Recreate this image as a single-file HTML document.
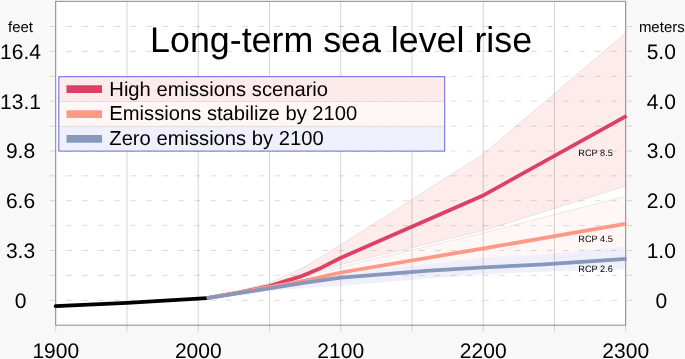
<!DOCTYPE html>
<html><head><meta charset="utf-8"><title>Long-term sea level rise</title>
<style>html,body{margin:0;padding:0;background:#f8f8f8}svg text{text-rendering:geometricPrecision;font-family:"Liberation Sans",sans-serif;fill:#000}</style></head>
<body>
<svg width="685" height="359" viewBox="0 0 685 359" style="display:block;will-change:transform">
<rect width="685" height="359" fill="#f8f8f8"/>
<rect x="55.6" y="1.4" width="570.0" height="323.8" fill="#fff"/>
<polygon points="206.8,298.1 240.0,290.5 269.5,282.8 289.4,273.9 301.9,268.3 312.8,262.0 340.4,245.0 483.7,153.7 625.6,32.9 625.6,186.1 483.7,230.6 340.9,264.5 269.3,287.0 206.7,298.0" fill="#f02020" fill-opacity="0.085" stroke="#000" stroke-opacity="0.17" stroke-width="0.5"/>
<polygon points="206.7,298.0 269.3,285.5 340.9,267.0 483.7,232.9 625.6,196.1 625.6,249.7 540.0,260.4 483.7,263.4 426.0,268.1 340.9,279.5 269.3,289.0 206.7,298.0" fill="#ff5032" fill-opacity="0.042" stroke="#000" stroke-opacity="0.17" stroke-width="0.5"/>
<polygon points="206.7,298.0 269.3,286.5 340.9,273.5 426.0,264.2 483.7,257.6 540.0,254.7 625.6,246.4 625.6,269.6 540.0,271.8 483.7,274.3 426.0,278.8 340.9,285.9 305.1,288.1 269.3,290.9 206.7,298.0" fill="#ededfb" fill-opacity="0.82" stroke="none"/>
<line x1="55.75" y1="1.4" x2="55.75" y2="331.2" stroke="#000" stroke-opacity="0.17" stroke-width="1"/>
<line x1="127.00" y1="1.4" x2="127.00" y2="331.2" stroke="#000" stroke-opacity="0.17" stroke-width="1"/>
<line x1="198.24" y1="1.4" x2="198.24" y2="331.2" stroke="#000" stroke-opacity="0.17" stroke-width="1"/>
<line x1="269.49" y1="1.4" x2="269.49" y2="331.2" stroke="#000" stroke-opacity="0.17" stroke-width="1"/>
<line x1="340.73" y1="1.4" x2="340.73" y2="331.2" stroke="#000" stroke-opacity="0.17" stroke-width="1"/>
<line x1="411.98" y1="1.4" x2="411.98" y2="331.2" stroke="#000" stroke-opacity="0.17" stroke-width="1"/>
<line x1="483.22" y1="1.4" x2="483.22" y2="331.2" stroke="#000" stroke-opacity="0.17" stroke-width="1"/>
<line x1="554.47" y1="1.4" x2="554.47" y2="331.2" stroke="#000" stroke-opacity="0.17" stroke-width="1"/>
<line x1="625.71" y1="1.4" x2="625.71" y2="331.2" stroke="#000" stroke-opacity="0.17" stroke-width="1"/>
<line x1="50" y1="300.30" x2="632" y2="300.30" stroke="#000" stroke-opacity="0.14" stroke-width="1" stroke-dasharray="6 10.027"/>
<line x1="50" y1="275.41" x2="632" y2="275.41" stroke="#000" stroke-opacity="0.14" stroke-width="1" stroke-dasharray="6 10.027"/>
<line x1="50" y1="250.52" x2="632" y2="250.52" stroke="#000" stroke-opacity="0.14" stroke-width="1" stroke-dasharray="6 10.027"/>
<line x1="50" y1="225.63" x2="632" y2="225.63" stroke="#000" stroke-opacity="0.14" stroke-width="1" stroke-dasharray="6 10.027"/>
<line x1="50" y1="200.74" x2="632" y2="200.74" stroke="#000" stroke-opacity="0.14" stroke-width="1" stroke-dasharray="6 10.027"/>
<line x1="50" y1="175.85" x2="632" y2="175.85" stroke="#000" stroke-opacity="0.14" stroke-width="1" stroke-dasharray="6 10.027"/>
<line x1="50" y1="150.96" x2="632" y2="150.96" stroke="#000" stroke-opacity="0.14" stroke-width="1" stroke-dasharray="6 10.027"/>
<line x1="50" y1="126.07" x2="632" y2="126.07" stroke="#000" stroke-opacity="0.14" stroke-width="1" stroke-dasharray="6 10.027"/>
<line x1="50" y1="101.18" x2="632" y2="101.18" stroke="#000" stroke-opacity="0.14" stroke-width="1" stroke-dasharray="6 10.027"/>
<line x1="50" y1="76.29" x2="632" y2="76.29" stroke="#000" stroke-opacity="0.14" stroke-width="1" stroke-dasharray="6 10.027"/>
<line x1="50" y1="51.40" x2="632" y2="51.40" stroke="#000" stroke-opacity="0.14" stroke-width="1" stroke-dasharray="6 10.027"/>
<line x1="50" y1="26.51" x2="632" y2="26.51" stroke="#000" stroke-opacity="0.14" stroke-width="1" stroke-dasharray="6 10.027"/>
<rect x="55.6" y="1.4" width="570.0" height="323.8" fill="none" stroke="#9a9a9a" stroke-width="1.15"/>
<polyline points="55.6,306.2 127.0,302.8 206.7,298.1" fill="none" stroke="#000" stroke-width="3.7" stroke-linejoin="round" stroke-linecap="round"/>
<polyline points="206.8,298.1 240.0,292.4 269.5,286.1 283.0,281.9 301.9,276.1 321.0,267.9 340.4,258.0 483.7,195.2 626.6,115.8" fill="none" stroke="#dc4064" stroke-width="3.8" stroke-linejoin="round"/>
<polyline points="206.8,298.1 269.3,287.0 305.1,280.7 340.9,272.5 483.7,248.4 626.6,223.7" fill="none" stroke="#ff9885" stroke-width="3.8" stroke-linejoin="round"/>
<polyline points="206.8,298.1 269.3,288.4 305.1,282.6 340.9,277.7 426.0,270.9 483.7,267.3 540.0,264.7 626.6,258.8" fill="none" stroke="#8898bc" stroke-width="3.8" stroke-linejoin="round"/>
<rect x="58.8" y="76.70" width="385.9" height="24.8" fill="#fdeaea"/>
<rect x="58.8" y="101.50" width="385.9" height="24.8" fill="#fff7f5"/>
<rect x="58.8" y="126.30" width="385.9" height="24.8" fill="#f0f0fd"/>
<line x1="58.8" x2="444.7" y1="101.50" y2="101.50" stroke="#dcd8d8" stroke-width="0.8"/>
<line x1="58.8" x2="444.7" y1="126.30" y2="126.30" stroke="#dcd8d8" stroke-width="0.8"/>
<rect x="58.8" y="76.7" width="385.9" height="74.4" fill="none" stroke="#6666e0" stroke-width="1"/>
<line x1="66.5" x2="102" y1="89.20" y2="89.20" stroke="#dc4064" stroke-width="7.7"/>
<text x="109.3" y="95.50" font-size="20.2">High emissions scenario</text>
<line x1="66.5" x2="102" y1="114.05" y2="114.05" stroke="#ff9885" stroke-width="7.7"/>
<text x="109.3" y="120.40" font-size="20.2">Emissions stabilize by 2100</text>
<line x1="66.5" x2="102" y1="138.90" y2="138.90" stroke="#8898bc" stroke-width="7.7"/>
<text x="109.3" y="145.30" font-size="20.2">Zero emissions by 2100</text>
<text x="341.1" y="51.7" font-size="35.8" text-anchor="middle">Long-term sea level rise</text>
<text x="20.5" y="307.80" font-size="21" text-anchor="middle">0</text>
<text x="661.3" y="307.80" font-size="21" text-anchor="middle">0</text>
<text x="20.5" y="258.02" font-size="21" text-anchor="middle">3.3</text>
<text x="661.3" y="258.02" font-size="21" text-anchor="middle">1.0</text>
<text x="20.5" y="208.24" font-size="21" text-anchor="middle">6.6</text>
<text x="661.3" y="208.24" font-size="21" text-anchor="middle">2.0</text>
<text x="20.5" y="158.46" font-size="21" text-anchor="middle">9.8</text>
<text x="661.3" y="158.46" font-size="21" text-anchor="middle">3.0</text>
<text x="20.5" y="108.68" font-size="21" text-anchor="middle">13.1</text>
<text x="661.3" y="108.68" font-size="21" text-anchor="middle">4.0</text>
<text x="20.5" y="58.90" font-size="21" text-anchor="middle">16.4</text>
<text x="661.3" y="58.90" font-size="21" text-anchor="middle">5.0</text>
<text x="20.5" y="31.6" font-size="15" text-anchor="middle">feet</text>
<text x="661.8" y="31.6" font-size="15" text-anchor="middle">meters</text>
<text x="55.75" y="358.3" font-size="21" text-anchor="middle">1900</text>
<text x="198.24" y="358.3" font-size="21" text-anchor="middle">2000</text>
<text x="340.73" y="358.3" font-size="21" text-anchor="middle">2100</text>
<text x="483.22" y="358.3" font-size="21" text-anchor="middle">2200</text>
<text x="625.71" y="358.3" font-size="21" text-anchor="middle">2300</text>
<text x="578.3" y="156" font-size="9.2">RCP 8.5</text>
<text x="578.3" y="241.8" font-size="9.2">RCP 4.5</text>
<text x="578.3" y="271.9" font-size="9.2">RCP 2.6</text>
</svg>
</body></html>
